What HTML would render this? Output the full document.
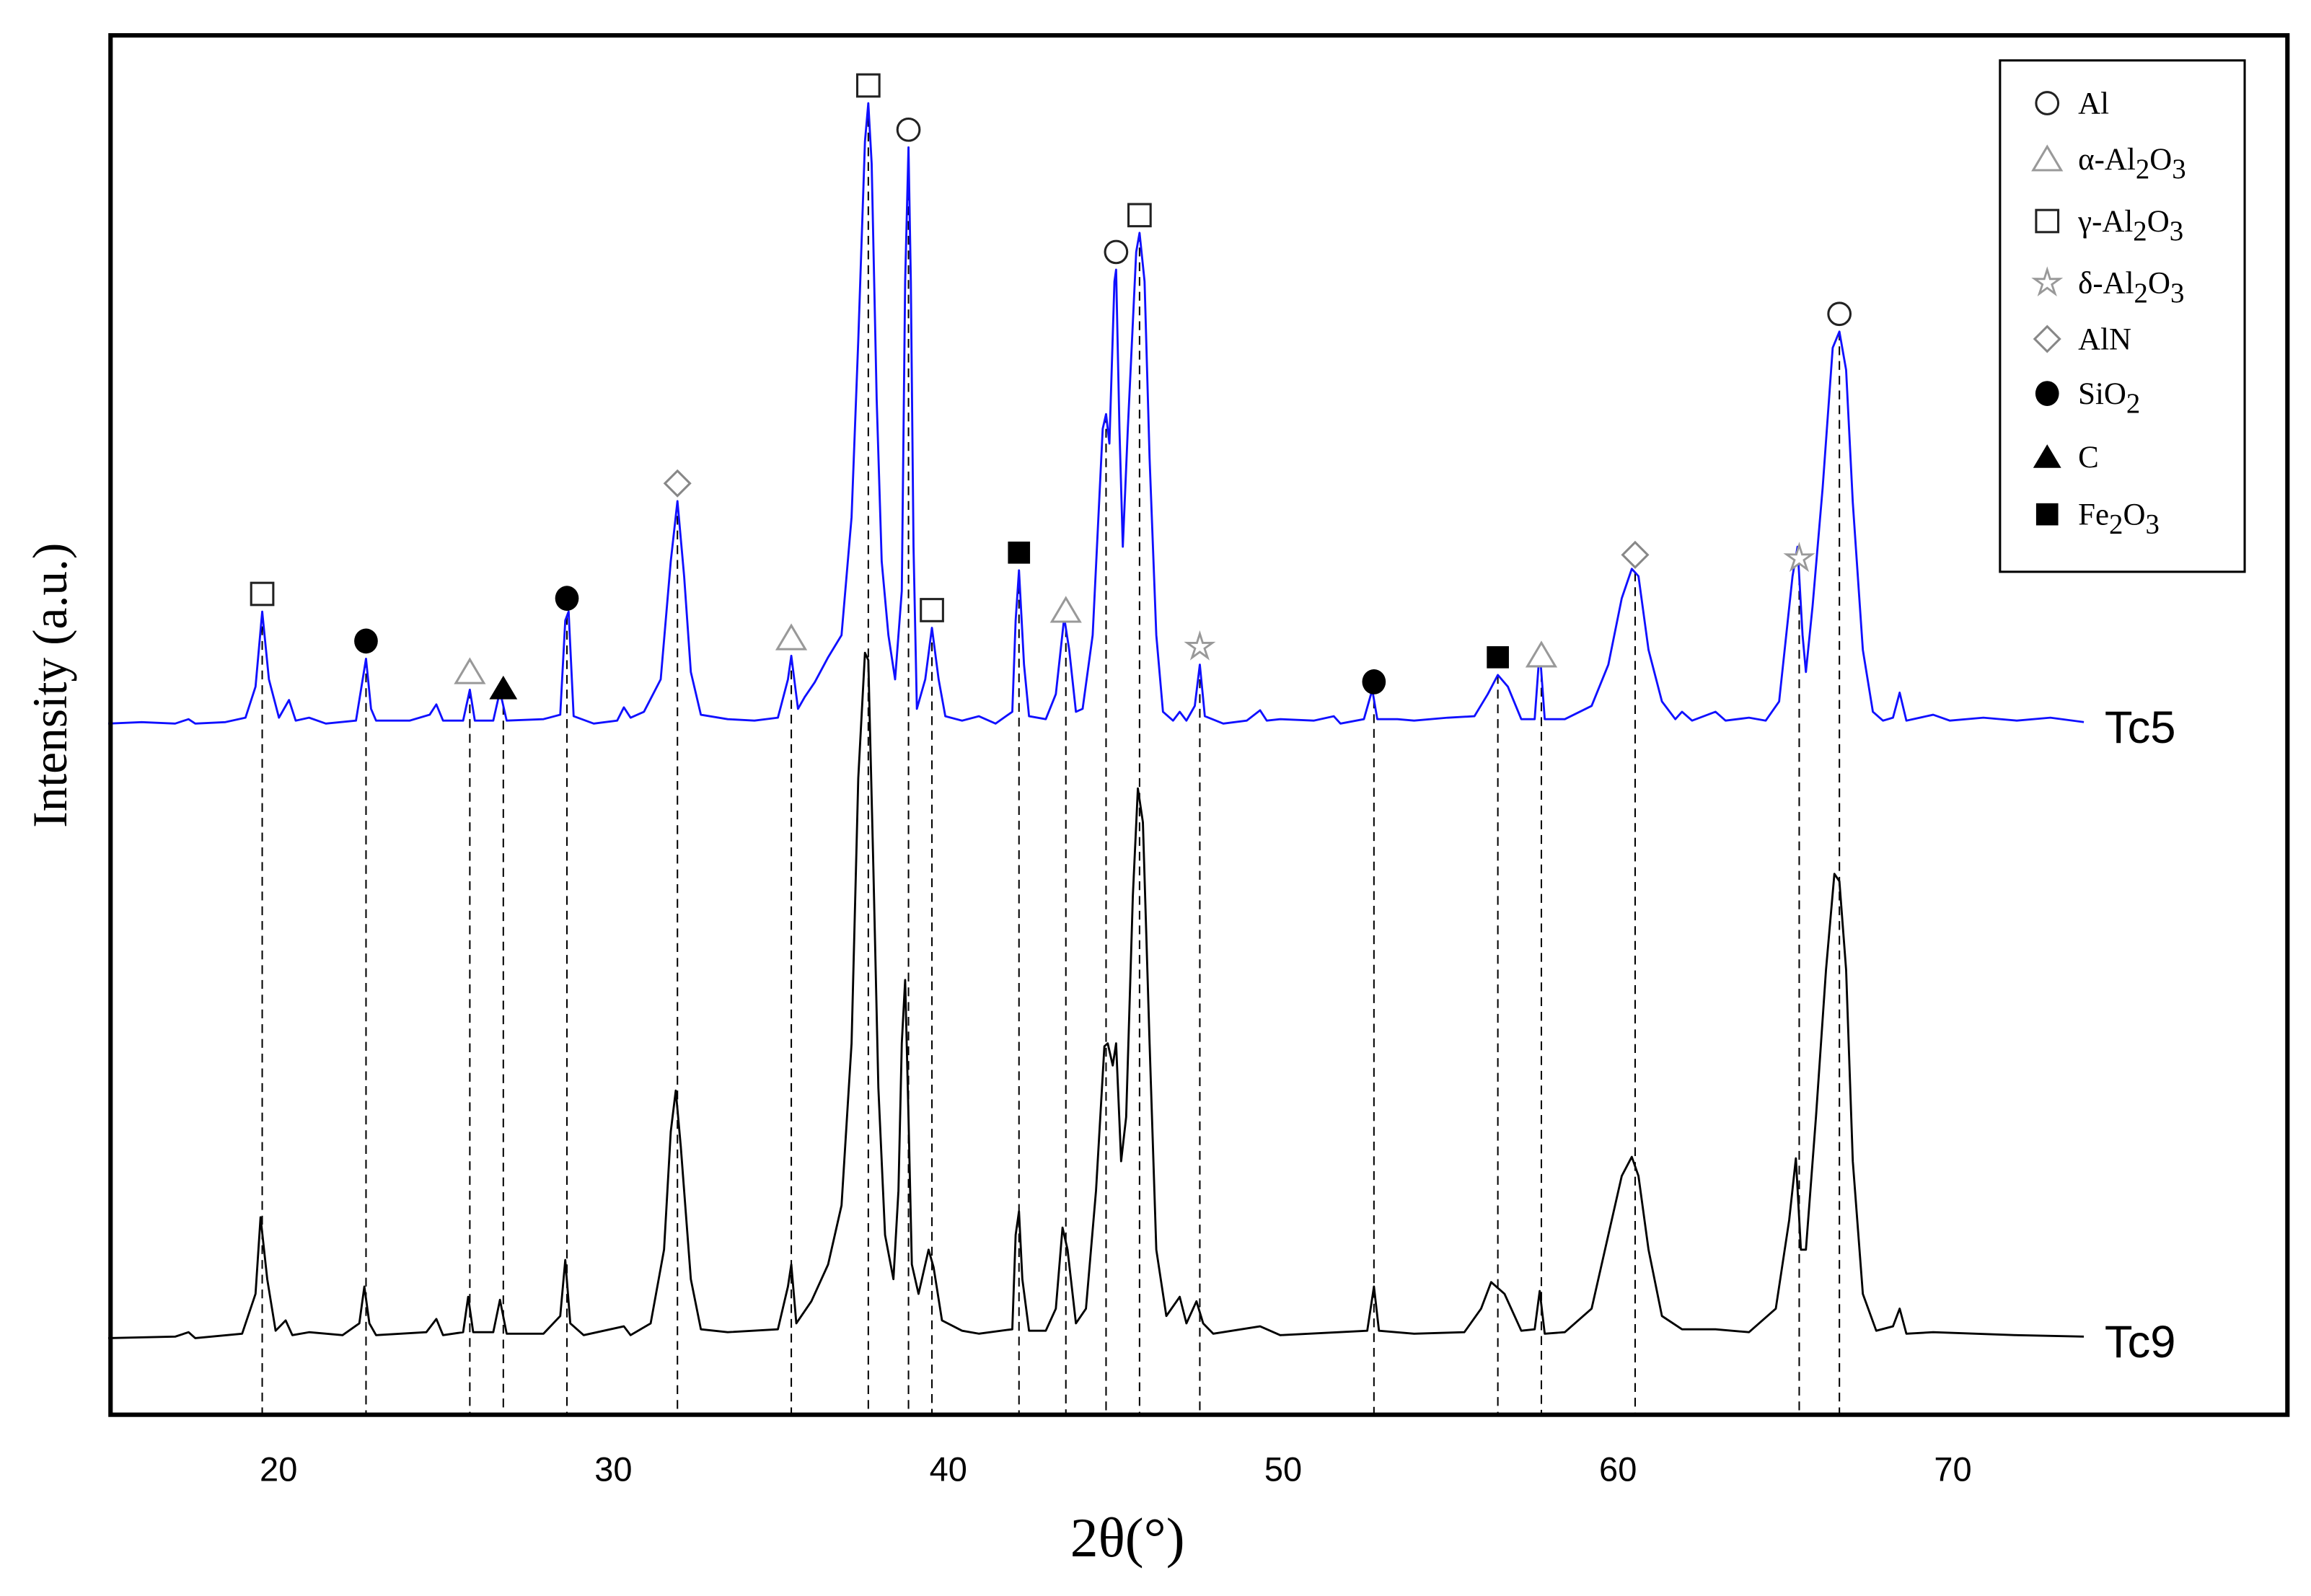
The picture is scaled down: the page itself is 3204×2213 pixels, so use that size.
<!DOCTYPE html>
<html><head><meta charset="utf-8"><style>
html,body{margin:0;padding:0;background:#fff;}
svg{display:block;}
</style></head><body>
<svg id="chart" width="3204" height="2213" viewBox="0 0 1568 1083" preserveAspectRatio="none" xmlns="http://www.w3.org/2000/svg">
<rect x="0" y="0" width="1568" height="1083" fill="#fff"/>
<g id="dashes"></g>
<g id="curves"></g>
<g id="markers"></g>
<rect x="75" y="24" width="1477" height="936" fill="none" stroke="#000" stroke-width="3"/>
<g id="ticks" font-family="Liberation Sans, sans-serif" font-size="23" text-anchor="middle"></g>
<text x="765" y="1056" font-family="Liberation Serif, serif" font-size="38" text-anchor="middle">2θ(°)</text>
<text transform="translate(45,465) rotate(-90)" font-family="Liberation Serif, serif" font-size="33" text-anchor="middle">Intensity (a.u.)</text>
<text x="1428" y="504" font-family="Liberation Sans, sans-serif" font-size="31">Tc5</text>
<text x="1428" y="921" font-family="Liberation Sans, sans-serif" font-size="31">Tc9</text>
<g id="legend">
<rect x="1357" y="41" width="166" height="347" fill="#fff" stroke="#000" stroke-width="1.5"/>
</g>
</svg>
<script>
const xTicks=[20,30,40,50,60,70];
const tc5Offset=417;
const tc5=[[15,0],[16,1],[17,0],[17.4,3],[17.6,0],[18.5,1],[19.1,4],[19.4,25],[19.6,76],[19.8,30],[20.1,4],[20.4,16],[20.6,2],[21,4],[21.5,0],[22.4,2],[22.6,30],[22.7,44],[22.85,10],[23,2],[24,2],[24.6,6],[24.8,13],[25,2],[25.6,2],[25.8,23],[25.95,2],[26.5,2],[26.7,22],[26.9,2],[28,3],[28.5,6],[28.65,70],[28.75,76],[28.9,5],[29.5,0],[30.2,2],[30.4,11],[30.6,4],[31.0,8],[31.5,30],[31.8,110],[32.0,151],[32.2,100],[32.4,35],[32.7,6],[33.5,3],[34.3,2],[35,4],[35.3,30],[35.4,46],[35.6,10],[35.8,18],[36.1,28],[36.5,45],[36.9,60],[37.2,140],[37.4,260],[37.6,395],[37.7,421],[37.8,380],[37.95,220],[38.1,110],[38.3,60],[38.5,30],[38.7,90],[38.8,300],[38.9,391],[38.97,300],[39.05,120],[39.15,10],[39.4,30],[39.6,65],[39.8,30],[40,5],[40.5,2],[41,5],[41.5,0],[42,8],[42.1,70],[42.2,104],[42.35,40],[42.5,5],[43,3],[43.3,20],[43.55,72],[43.7,50],[43.9,8],[44.1,10],[44.4,60],[44.7,200],[44.8,210],[44.9,190],[45.05,300],[45.1,308],[45.2,200],[45.3,120],[45.45,200],[45.7,320],[45.8,333],[45.95,300],[46.1,180],[46.3,60],[46.5,8],[46.8,2],[47.0,8],[47.2,2],[47.45,12],[47.6,40],[47.75,5],[48.3,0],[49,2],[49.4,9],[49.6,2],[50,3],[51,2],[51.6,5],[51.8,0],[52.5,3],[52.75,23],[52.9,3],[53.5,3],[54,2],[55,4],[55.8,5],[56.2,20],[56.5,33],[56.8,25],[57.2,3],[57.6,3],[57.75,50],[57.9,3],[58.5,3],[59.3,12],[59.8,40],[60.2,85],[60.5,105],[60.7,100],[61.0,50],[61.4,15],[61.8,3],[62,8],[62.3,2],[63,8],[63.3,2],[64,4],[64.5,2],[64.9,15],[65.3,100],[65.45,120],[65.6,60],[65.7,35],[65.9,80],[66.2,160],[66.5,255],[66.7,266],[66.9,240],[67.1,150],[67.4,50],[67.7,8],[68,2],[68.3,4],[68.5,21],[68.7,2],[69.5,6],[70,2],[71,4],[72,2],[73,4],[74,1]];
const tc9=[[15,0],[17,1],[17.4,4],[17.6,0],[19,3],[19.4,30],[19.55,82],[19.75,40],[20.0,5],[20.3,12],[20.5,2],[21,4],[22,2],[22.5,10],[22.65,35],[22.8,10],[23,2],[24.5,4],[24.8,13],[25,2],[25.6,4],[25.75,28],[25.9,4],[26.5,4],[26.7,26],[26.9,3],[28,3],[28.5,15],[28.65,53],[28.8,10],[29.2,2],[30.4,8],[30.6,2],[31.2,10],[31.6,60],[31.8,140],[31.95,168],[32.1,130],[32.4,40],[32.7,6],[33.5,4],[35,6],[35.3,35],[35.4,50],[35.55,10],[36,25],[36.5,50],[36.9,90],[37.2,200],[37.4,380],[37.6,465],[37.7,460],[37.85,320],[38.0,170],[38.2,70],[38.45,40],[38.6,100],[38.7,200],[38.8,243],[38.9,150],[39.0,50],[39.2,30],[39.5,60],[39.65,48],[39.9,12],[40.5,5],[41,3],[42,6],[42.1,70],[42.2,86],[42.3,40],[42.5,5],[43,5],[43.3,20],[43.5,75],[43.65,60],[43.9,10],[44.2,20],[44.5,100],[44.75,198],[44.85,200],[45.0,185],[45.1,200],[45.25,120],[45.4,150],[45.6,300],[45.75,373],[45.9,350],[46.1,200],[46.3,60],[46.6,15],[47,28],[47.2,10],[47.5,25],[47.7,10],[48,3],[49.4,8],[50,2],[52.6,5],[52.8,35],[52.95,5],[54,3],[55.5,4],[56,20],[56.3,38],[56.7,30],[57.2,5],[57.6,6],[57.75,32],[57.9,3],[58.5,4],[59.3,20],[59.8,70],[60.2,110],[60.5,123],[60.7,110],[61.0,60],[61.4,15],[62,6],[63,6],[64,4],[64.8,20],[65.2,80],[65.4,122],[65.55,60],[65.7,60],[66,150],[66.3,250],[66.55,315],[66.7,310],[66.9,250],[67.1,120],[67.4,30],[67.8,5],[68.3,8],[68.5,20],[68.7,3],[69.5,4],[72,2],[74,1]];
const linePos=[19.6,22.7,25.8,26.8,28.7,32.0,35.4,37.7,38.9,39.6,42.2,43.6,44.8,45.8,47.6,52.8,56.5,57.8,60.6,65.5,66.7];
const markerPos=[19.6,22.7,25.8,26.8,28.7,32.0,35.4,37.7,38.9,39.6,42.2,43.6,45.1,45.8,47.6,52.8,56.5,57.8,60.6,65.5,66.7];
const markerType=['sq','fc','tri','ftri','fc','dia','tri','sq','circ','sq','fsq','tri','circ','sq','star','fc','fsq','tri','dia','star','circ'];
const legendTypes=['circ','tri','sq','star','dia','fc','ftri','fsq'];
const legendLabels=[['Al'],['α-Al','2','O','3'],['γ-Al','2','O','3'],['δ-Al','2','O','3'],['AlN'],['SiO','2'],['C'],['Fe','2','O','3']];

const NS='http://www.w3.org/2000/svg';
const X0=75,X1=1552,Y1=960,BASE9=908;
function xs(t){return 189+(t-20)*22.72;}
function xd(t){return xs(t)-2;}
function ys(v,off){return BASE9-(v+off);}
function interp(arr,t){for(let i=1;i<arr.length;i++){if(arr[i][0]>=t){const a=arr[i-1],b=arr[i];return a[1]+(b[1]-a[1])*(t-a[0])/(b[0]-a[0]);}}return 0;}
function mk(tag,attrs,parent){const e=document.createElementNS(NS,tag);for(const k in attrs)e.setAttribute(k,attrs[k]);parent.appendChild(e);return e;}

const curves=document.getElementById('curves');
function drawSeries(arr,off,color,name){
  const d=arr.map((p,i)=>(i?'L':'M')+xd(p[0]).toFixed(2)+','+ys(p[1],off).toFixed(2)).join('');
  const p=mk('path',{d:d,fill:'none',stroke:color,'stroke-width':1.4,'stroke-linejoin':'round'},curves);
  
  
}
drawSeries(tc9,0,'#000','series-tc9');
drawSeries(tc5,tc5Offset,'#1010ff','series-tc5');

const dashes=document.getElementById('dashes');
linePos.forEach(t=>{
  const l=mk('line',{x1:xd(t),x2:xd(t),y1:ys(interp(tc5,t),tc5Offset),y2:Y1,stroke:'#000','stroke-width':1,'stroke-dasharray':'6,4'},dashes);
  
  
});

function drawMarker(type,cx,cy,parent){
  const g=mk('g',{},parent);
  const r=7.5;
  if(type==='circ')mk('circle',{cx:cx,cy:cy,r:r,fill:'#fff',stroke:'#222','stroke-width':1.5},g);
  if(type==='fc')mk('ellipse',{cx:cx,cy:cy,rx:r+0.5,ry:r+1,fill:'#000'},g);
  if(type==='sq')mk('rect',{x:cx-r,y:cy-r,width:2*r,height:2*r,fill:'#fff',stroke:'#222','stroke-width':1.5},g);
  if(type==='fsq')mk('rect',{x:cx-r,y:cy-r,width:2*r,height:2*r,fill:'#000'},g);
  if(type==='tri')mk('polygon',{points:`${cx},${cy-r-1} ${cx+r+2},${cy+r} ${cx-r-2},${cy+r}`,fill:'#fff',stroke:'#999','stroke-width':1.5},g);
  if(type==='ftri')mk('polygon',{points:`${cx},${cy-r-1} ${cx+r+2},${cy+r} ${cx-r-2},${cy+r}`,fill:'#000'},g);
  if(type==='dia')mk('polygon',{points:`${cx},${cy-r-1} ${cx+r+1},${cy} ${cx},${cy+r+1} ${cx-r-1},${cy}`,fill:'#fff',stroke:'#888','stroke-width':1.5},g);
  if(type==='star'){let pts=[];for(let i=0;i<10;i++){const a=-Math.PI/2+i*Math.PI/5;const rr=i%2?r*0.45:r+1.5;pts.push((cx+rr*Math.cos(a)).toFixed(2)+','+(cy+rr*Math.sin(a)).toFixed(2));}
    mk('polygon',{points:pts.join(' '),fill:'#fff',stroke:'#999','stroke-width':1.4},g);}
  return g;
}
const markers=document.getElementById('markers');
markerPos.forEach((t,i)=>{
  const g=drawMarker(markerType[i],xd(t),ys(interp(tc5,t),tc5Offset)-12,markers);
  
  
});

const ticks=document.getElementById('ticks');
xTicks.forEach(v=>{
  const t=mk('text',{x:xs(v),y:1005},ticks);
  t.textContent=v;
  
  
});

const legend=document.getElementById('legend');
const legY=[70,108,150,192,230,267,310,349];
legendTypes.forEach((ty,i)=>{
  const g=mk('g',{},legend);
  
  
  drawMarker(ty,1389,legY[i],g);
  const tx=mk('text',{x:1410,y:legY[i]+7,'font-family':'Liberation Serif, serif','font-size':21},g);
  legendLabels[i].forEach((s,j)=>{
    const sp=mk('tspan',{},tx);
    if(j%2===1){sp.setAttribute('dy','6');sp.setAttribute('font-size','19');}
    else if(j>0){sp.setAttribute('dy','-6');}
    sp.textContent=s;
  });
});
</script>
</body></html>
